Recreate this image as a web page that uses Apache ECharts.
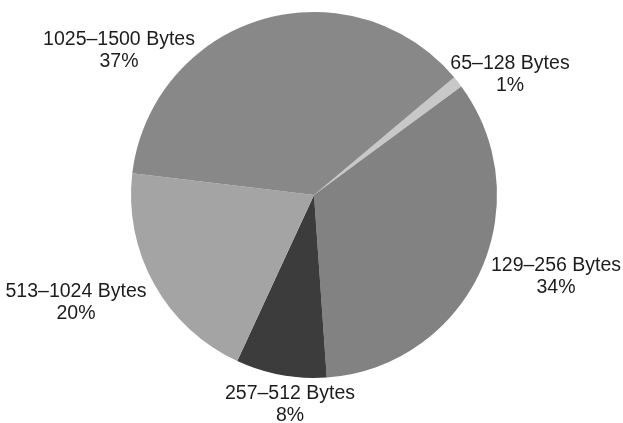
<!DOCTYPE html>
<html>
<head>
<meta charset="utf-8">
<script src="https://cdn.jsdelivr.net/npm/echarts@6/dist/echarts.min.js"></script>
<style>
html,body{margin:0;padding:0;background:#fff;}
#chart{width:623px;height:423px;}
</style>
</head>
<body>
<div id="chart"></div>
<script>
var categories = ['65–128 Bytes', '129–256 Bytes', '257–512 Bytes', '513–1024 Bytes', '1025–1500 Bytes'];
var percents = [1, 34, 8, 20, 37];

var sliceColors = ['#c8c8c8', '#828282', '#3c3c3c', '#a4a4a4', '#888888'];
var labelAnchors = [[510, 75], [556, 277], [290, 405], [76, 303], [119, 51]];

var chart = echarts.init(document.getElementById('chart'), null, {renderer: 'canvas'});
var data = categories.map(function (c, i) {
  return {name: c, value: percents[i], itemStyle: {color: sliceColors[i]}};
});
chart.setOption({
  animation: false,
  backgroundColor: '#ffffff',
  series: [{
    type: 'pie',
    center: [314, 195],
    radius: 183,
    startAngle: 40,
    clockwise: true,
    avoidLabelOverlap: false,
    data: data,
    itemStyle: {borderWidth: 0},
    emphasis: {disabled: true},
    label: {
      show: true,
      position: 'outside',
      formatter: function (p) { return p.name + '\n' + p.value + '%'; },
      fontFamily: '"Liberation Sans", Arial, Helvetica, sans-serif',
      fontSize: 19.5,
      lineHeight: 22,
      color: '#1c1c1c',
      align: 'center'
    },
    labelLine: {show: false},
    labelLayout: function (params) {
      var a = labelAnchors[params.dataIndex];
      return {x: a[0], y: a[1], align: 'center', verticalAlign: 'middle'};
    }
  }]
});
</script>
</body>
</html>
